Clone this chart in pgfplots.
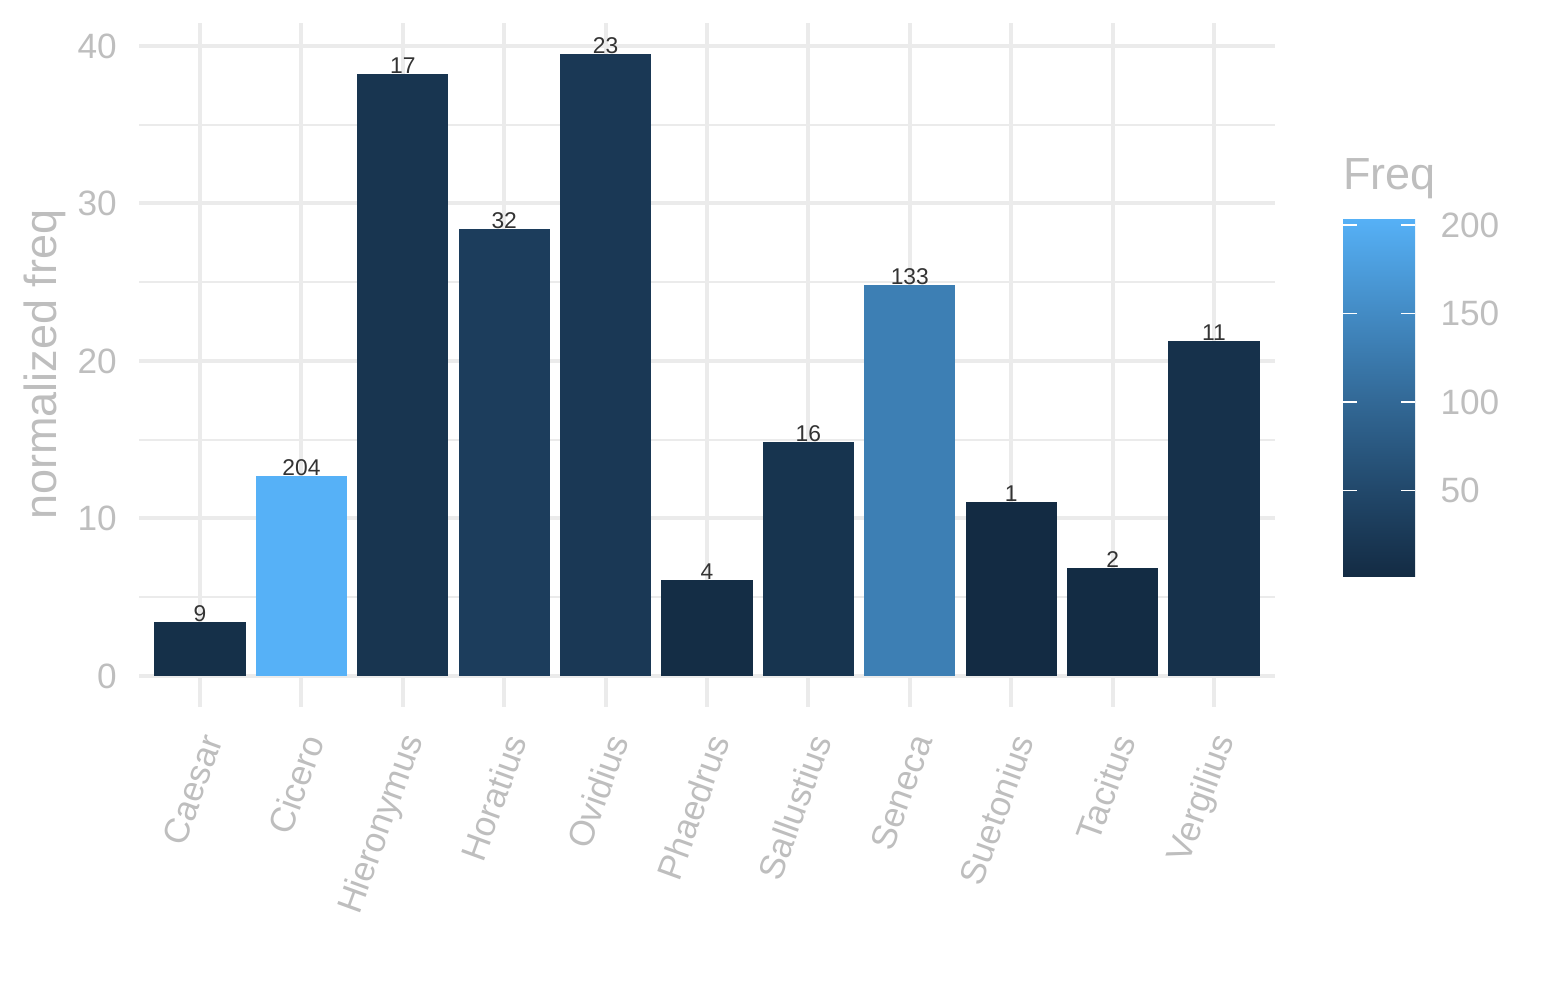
\documentclass[border=0pt]{standalone}
\usepackage{fontspec}
\setmainfont{Liberation Sans}
\usepackage{pgfplots}
\pgfplotsset{compat=1.18}
\definecolor{txtgray}{HTML}{BEBEBE}
\definecolor{gridgray}{HTML}{EBEBEB}
\definecolor{lblgray}{HTML}{333333}
\definecolor{cCaesar}{RGB}{21,48,73}
\definecolor{cCicero}{RGB}{86,177,247}
\definecolor{cHieronymus}{RGB}{24,53,80}
\definecolor{cHoratius}{RGB}{28,61,92}
\definecolor{cOvidius}{RGB}{26,56,85}
\definecolor{cPhaedrus}{RGB}{20,45,69}
\definecolor{cSallustius}{RGB}{23,52,79}
\definecolor{cSeneca}{RGB}{61,127,180}
\definecolor{cSuetonius}{RGB}{19,43,67}
\definecolor{cTacitus}{RGB}{19,44,68}
\definecolor{cVergilius}{RGB}{22,49,75}
\pgfplotsset{barsty/.style={ybar, bar width=0.9, bar shift=0pt, draw=none,
  point meta=explicit, nodes near coords}}
\begin{document}
\begin{tikzpicture}
\path[use as bounding box] (0,0) rectangle (772.5pt,500pt);
\begin{axis}[
  at={(69.6pt,146.5pt)}, anchor=south west,
  scale only axis, width=567.8pt, height=342.1pt,
  xmin=0.4, xmax=11.6, ymin=-1.975, ymax=41.475,
  xtick={1,...,11},
  xticklabels={Caesar,Cicero,Hieronymus,Horatius,Ovidius,Phaedrus,Sallustius,Seneca,Suetonius,Tacitus,Vergilius},
  ytick={0,10,20,30,40}, minor ytick={5,15,25,35},
  grid=both,
  major grid style={draw=gridgray, line width=2pt},
  minor grid style={draw=gridgray, line width=1pt},
  axis line style={draw=none},
  major tick length=0pt, minor tick length=0pt,
  tick style={draw=none},
  /pgf/number format/assume math mode=true,
  ticklabel style={font=\fontsize{17.6}{20}\selectfont, text=txtgray},
  xticklabel style={xshift=6pt, yshift=-14.5pt, rotate=70, anchor=east, inner sep=0pt},
  yticklabel style={anchor=east, inner sep=0pt, xshift=-11pt},
  ylabel={normalized freq},
  ylabel style={at={(axis description cs:-0.073,0.5)}, anchor=base, inner sep=0pt,
    font=\fontsize{22.5}{26}\selectfont, text=txtgray},
  every node near coord/.append style={inner sep=0pt, font=\fontsize{11.4}{13}\selectfont, text=lblgray},
  colormap={gg}{rgb255=(19,43,67) rgb255=(34,73,108) rgb255=(51,106,152) rgb255=(68,141,199) rgb255=(86,177,247)},
  point meta min=1, point meta max=204,
  colorbar,
  colorbar/width=36pt,
  colorbar style={
    at={(parent axis.south east)}, anchor=south west,
    xshift=25.6pt, yshift=65pt,
    scale only axis, width=36pt, height=179.5pt,
    ytick={50,100,150,200}, xtick=\empty,
    yticklabel pos=right, ytick pos=both,
    tick align=inside, major tick length=7pt,
    tick style={draw=white, line width=0.6pt},
    axis line style={draw=none},
    axis on top,
    /pgf/number format/assume math mode=true,
    yticklabel style={anchor=west, inner sep=0pt, xshift=12.5pt,
      font=\fontsize{17.6}{20}\selectfont, text=txtgray},
    title={Freq},
    title style={at={(0,1)}, anchor=base west, inner sep=0pt, yshift=8pt,
      font=\fontsize{22.5}{26}\selectfont, text=txtgray},
  },
]
\addplot[barsty, fill=cCaesar] coordinates {(1,3.43) [9]};
\addplot[barsty, fill=cCicero] coordinates {(2,12.7) [204]};
\addplot[barsty, fill=cHieronymus] coordinates {(3,38.2) [17]};
\addplot[barsty, fill=cHoratius] coordinates {(4,28.4) [32]};
\addplot[barsty, fill=cOvidius] coordinates {(5,39.5) [23]};
\addplot[barsty, fill=cPhaedrus] coordinates {(6,6.1) [4]};
\addplot[barsty, fill=cSallustius] coordinates {(7,14.86) [16]};
\addplot[barsty, fill=cSeneca] coordinates {(8,24.8) [133]};
\addplot[barsty, fill=cSuetonius] coordinates {(9,11.05) [1]};
\addplot[barsty, fill=cTacitus] coordinates {(10,6.86) [2]};
\addplot[barsty, fill=cVergilius] coordinates {(11,21.27) [11]};
\end{axis}
\end{tikzpicture}
\end{document}
